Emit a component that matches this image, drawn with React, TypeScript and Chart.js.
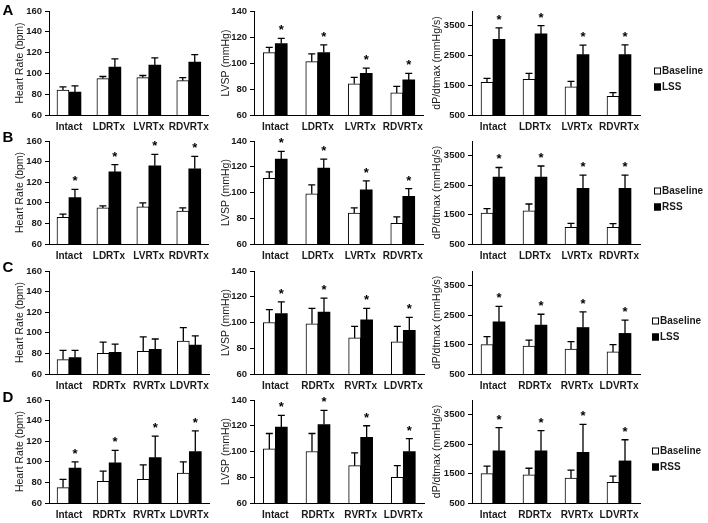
import React, { useEffect, useRef } from 'react';
import { Chart, registerables } from 'chart.js';

Chart.register(...registerables);

const FONT = '"Liberation Sans", Arial, Helvetica, sans-serif';
Chart.defaults.font.family = FONT;

// ---------- categories ----------
const CATEGORIES_LEFT = ['Intact', 'LDRTx', 'LVRTx', 'RDVRTx'];
const CATEGORIES_RIGHT = ['Intact', 'RDRTx', 'RVRTx', 'LDVRTx'];

// ---------- tick labels ----------
const HR_TICKS = [60, 80, 100, 120, 140, 160];
const LVSP_TICKS = [60, 80, 100, 120, 140];
const DP_TICKS = [500, 1500, 2500, 3500];

// ---------- Row A (LSS) ----------
const A_HR_BASE = [84, 95, 96, 93];
const A_HR_BASE_ERR = [3, 2, 2, 3];
const A_HR_STRESS = [82, 106, 108, 111];
const A_HR_STRESS_ERR = [6, 8, 7, 7];
const A_HR_SIG = [0, 0, 0, 0];

const A_LVSP_BASE = [108, 101, 84, 77];
const A_LVSP_BASE_ERR = [4, 6, 5, 5];
const A_LVSP_STRESS = [115, 108, 92, 87];
const A_LVSP_STRESS_ERR = [4, 6, 4, 5];
const A_LVSP_SIG = [1, 1, 1, 1];

const A_DP_BASE = [1600, 1700, 1450, 1130];
const A_DP_BASE_ERR = [130, 200, 180, 120];
const A_DP_STRESS = [3050, 3230, 2530, 2530];
const A_DP_STRESS_ERR = [380, 280, 320, 330];
const A_DP_SIG = [1, 1, 1, 1];

// ---------- Row B (RSS) ----------
const B_HR_BASE = [86, 95, 96, 92];
const B_HR_BASE_ERR = [3, 2, 4, 3];
const B_HR_STRESS = [105, 130, 136, 133];
const B_HR_STRESS_ERR = [8, 7, 11, 12];
const B_HR_SIG = [1, 1, 1, 1];

const B_LVSP_BASE = [111, 99, 84, 76];
const B_LVSP_BASE_ERR = [5, 7, 4, 5];
const B_LVSP_STRESS = [126, 119, 102, 97];
const B_LVSP_STRESS_ERR = [6, 7, 7, 6];
const B_LVSP_SIG = [1, 1, 1, 1];

const B_DP_BASE = [1550, 1630, 1070, 1070];
const B_DP_BASE_ERR = [150, 230, 130, 120];
const B_DP_STRESS = [2770, 2770, 2390, 2390];
const B_DP_STRESS_ERR = [330, 380, 450, 450];
const B_DP_SIG = [1, 1, 1, 1];

// ---------- Row C (LSS) ----------
const C_HR_BASE = [74, 80, 82, 92];
const C_HR_BASE_ERR = [9, 11, 14, 13];
const C_HR_STRESS = [76, 81, 84, 88];
const C_HR_STRESS_ERR = [7, 8, 10, 9];
const C_HR_SIG = [0, 0, 0, 0];

const C_LVSP_BASE = [100, 99, 88, 85];
const C_LVSP_BASE_ERR = [10, 12, 9, 12];
const C_LVSP_STRESS = [107, 108, 102, 94];
const C_LVSP_STRESS_ERR = [9, 11, 9, 10];
const C_LVSP_SIG = [1, 1, 1, 1];

const C_DP_BASE = [1500, 1450, 1350, 1250];
const C_DP_BASE_ERR = [270, 200, 250, 250];
const C_DP_STRESS = [2270, 2160, 2080, 1880];
const C_DP_STRESS_ERR = [530, 370, 530, 450];
const C_DP_SIG = [1, 1, 1, 1];

// ---------- Row D (RSS) ----------
const D_HR_BASE = [75, 81, 83, 89];
const D_HR_BASE_ERR = [8, 10, 14, 11];
const D_HR_STRESS = [94, 99, 104, 110];
const D_HR_STRESS_ERR = [6, 12, 21, 20];
const D_HR_SIG = [1, 1, 1, 1];

const D_LVSP_BASE = [102, 100, 89, 80];
const D_LVSP_BASE_ERR = [12, 14, 10, 9];
const D_LVSP_STRESS = [119, 121, 111, 100];
const D_LVSP_STRESS_ERR = [9, 11, 9, 10];
const D_LVSP_SIG = [1, 1, 1, 1];

const D_DP_BASE = [1500, 1460, 1350, 1200];
const D_DP_BASE_ERR = [250, 220, 270, 210];
const D_DP_STRESS = [2270, 2270, 2220, 1930];
const D_DP_STRESS_ERR = [790, 690, 950, 720];
const D_DP_SIG = [1, 1, 1, 1];

const ROW_LETTERS = ['A', 'B', 'C', 'D'];
const STRESS_LABELS = ['LSS', 'RSS', 'LSS', 'RSS'];
const BASELINE_LABEL = 'Baseline';

// ---------- layout (positions, not data) ----------
const ROW_LAYOUT = [
  { top: 0, h: 136, bottom: 115, legendX: 242, legendY: 71, letterY: 11 },
  { top: 130, h: 136, bottom: 114, legendX: 242, legendY: 61, letterY: 8 },
  { top: 260, h: 136, bottom: 114, legendX: 240, legendY: 61, letterY: 8 },
  { top: 389, h: 134, bottom: 114, legendX: 240, legendY: 62, letterY: 9 },
];

const COL_LAYOUT = {
  hr: { left: 0, w: 215, yWidth: 49, titlePad: 13.7, padRight: 2 },
  lvsp: { left: 212, w: 217, yWidth: 42, titlePad: 7.7, padRight: 2 },
  dp: { left: 412, w: 296, yWidth: 60, titlePad: 18.7, padRight: 68 },
};

const TEXT = '#1a1a1a';

type Spec = {
  row: number;
  col: 'hr' | 'lvsp' | 'dp';
  title: string;
  yMin: number;
  yMax: number;
  yTicks: number[];
  categories: string[];
  base: number[];
  baseErr: number[];
  stress: number[];
  stressErr: number[];
  sig: number[];
};

const ROW_DATA = [
  {
    cats: CATEGORIES_LEFT,
    hr: [A_HR_BASE, A_HR_BASE_ERR, A_HR_STRESS, A_HR_STRESS_ERR, A_HR_SIG],
    lvsp: [A_LVSP_BASE, A_LVSP_BASE_ERR, A_LVSP_STRESS, A_LVSP_STRESS_ERR, A_LVSP_SIG],
    dp: [A_DP_BASE, A_DP_BASE_ERR, A_DP_STRESS, A_DP_STRESS_ERR, A_DP_SIG],
  },
  {
    cats: CATEGORIES_LEFT,
    hr: [B_HR_BASE, B_HR_BASE_ERR, B_HR_STRESS, B_HR_STRESS_ERR, B_HR_SIG],
    lvsp: [B_LVSP_BASE, B_LVSP_BASE_ERR, B_LVSP_STRESS, B_LVSP_STRESS_ERR, B_LVSP_SIG],
    dp: [B_DP_BASE, B_DP_BASE_ERR, B_DP_STRESS, B_DP_STRESS_ERR, B_DP_SIG],
  },
  {
    cats: CATEGORIES_RIGHT,
    hr: [C_HR_BASE, C_HR_BASE_ERR, C_HR_STRESS, C_HR_STRESS_ERR, C_HR_SIG],
    lvsp: [C_LVSP_BASE, C_LVSP_BASE_ERR, C_LVSP_STRESS, C_LVSP_STRESS_ERR, C_LVSP_SIG],
    dp: [C_DP_BASE, C_DP_BASE_ERR, C_DP_STRESS, C_DP_STRESS_ERR, C_DP_SIG],
  },
  {
    cats: CATEGORIES_RIGHT,
    hr: [D_HR_BASE, D_HR_BASE_ERR, D_HR_STRESS, D_HR_STRESS_ERR, D_HR_SIG],
    lvsp: [D_LVSP_BASE, D_LVSP_BASE_ERR, D_LVSP_STRESS, D_LVSP_STRESS_ERR, D_LVSP_SIG],
    dp: [D_DP_BASE, D_DP_BASE_ERR, D_DP_STRESS, D_DP_STRESS_ERR, D_DP_SIG],
  },
];

const COL_META = {
  hr: { title: 'Heart Rate (bpm)', yMin: 60, yMax: 160, yTicks: HR_TICKS },
  lvsp: { title: 'LVSP (mmHg)', yMin: 60, yMax: 140, yTicks: LVSP_TICKS },
  dp: { title: 'dP/dtmax (mmHg/s)', yMin: 500, yMax: 4000, yTicks: DP_TICKS },
};

const SPECS: Spec[] = [];
ROW_DATA.forEach((r, row) => {
  (['hr', 'lvsp', 'dp'] as const).forEach((col) => {
    const d = r[col];
    SPECS.push({
      row,
      col,
      title: COL_META[col].title,
      yMin: COL_META[col].yMin,
      yMax: COL_META[col].yMax,
      yTicks: COL_META[col].yTicks,
      categories: r.cats,
      base: d[0],
      baseErr: d[1],
      stress: d[2],
      stressErr: d[3],
      sig: d[4],
    });
  });
});

// ---------- plugins ----------
const errorBarPlugin = {
  id: 'errorBars',
  afterDatasetsDraw(chart: any) {
    const { ctx } = chart;
    const yScale = chart.scales.y;
    chart.data.datasets.forEach((ds: any, di: number) => {
      const meta = chart.getDatasetMeta(di);
      meta.data.forEach((bar: any, i: number) => {
        const v = ds.data[i];
        const e = ds.errors[i];
        const yBar = yScale.getPixelForValue(v);
        const yTop = yScale.getPixelForValue(v + e);
        ctx.save();
        ctx.strokeStyle = '#000';
        ctx.lineWidth = 1.3;
        ctx.beginPath();
        ctx.moveTo(bar.x, yBar);
        ctx.lineTo(bar.x, yTop);
        ctx.moveTo(bar.x - 3.5, yTop);
        ctx.lineTo(bar.x + 3.5, yTop);
        ctx.stroke();
        if (ds.sig && ds.sig[i]) {
          ctx.fillStyle = '#000';
          ctx.font = `bold 13px ${FONT}`;
          ctx.textAlign = 'center';
          ctx.textBaseline = 'alphabetic';
          ctx.fillText('*', bar.x, yTop - 4);
        }
        ctx.restore();
      });
    });
  },
};

const sideLegendPlugin = {
  id: 'sideLegend',
  afterDraw(chart: any, _args: any, opts: any) {
    if (!opts || !opts.show) return;
    const { ctx } = chart;
    chart.data.datasets.forEach((ds: any, i: number) => {
      const cy = opts.y + i * 16;
      ctx.save();
      ctx.fillStyle = ds.backgroundColor;
      ctx.fillRect(opts.x, cy - 3.5, 7, 7);
      ctx.strokeStyle = '#000';
      ctx.lineWidth = 1;
      ctx.strokeRect(opts.x + 0.5, cy - 3, 6, 6);
      ctx.fillStyle = TEXT;
      ctx.font = `bold 10px ${FONT}`;
      ctx.textAlign = 'left';
      ctx.textBaseline = 'middle';
      ctx.fillText(ds.label, opts.x + 8, cy);
      ctx.restore();
    });
  },
};

const panelLetterPlugin = {
  id: 'panelLetter',
  afterDraw(chart: any, _args: any, opts: any) {
    if (!opts || !opts.text) return;
    const { ctx } = chart;
    ctx.save();
    ctx.fillStyle = '#000';
    ctx.font = `bold 15px ${FONT}`;
    ctx.textAlign = 'center';
    ctx.textBaseline = 'middle';
    ctx.fillText(opts.text, opts.x, opts.y);
    ctx.restore();
  },
};

function buildConfig(spec: Spec): any {
  const col = COL_LAYOUT[spec.col];
  const row = ROW_LAYOUT[spec.row];
  const xAxisH = row.h - row.bottom;
  return {
    type: 'bar',
    data: {
      labels: spec.categories,
      datasets: [
        {
          label: BASELINE_LABEL,
          data: spec.base,
          backgroundColor: '#ffffff',
          borderColor: '#000000',
          borderWidth: 1,
          barThickness: 12,
          errors: spec.baseErr,
          sig: null,
        },
        {
          label: STRESS_LABELS[spec.row],
          data: spec.stress,
          backgroundColor: '#000000',
          borderColor: '#000000',
          borderWidth: 0,
          barThickness: 12,
          errors: spec.stressErr,
          sig: spec.sig,
        },
      ],
    },
    options: {
      animation: false,
      responsive: false,
      maintainAspectRatio: false,
      events: [],
      layout: { padding: { top: 11, right: col.padRight, bottom: 0, left: 0 } },
      scales: {
        x: {
          type: 'category',
          offset: true,
          grid: { display: false, drawTicks: false },
          border: { display: true, color: '#000', width: 1 },
          ticks: {
            autoSkip: false,
            maxRotation: 0,
            minRotation: 0,
            padding: 6,
            color: TEXT,
            font: { size: 10, weight: 'bold' },
          },
          afterFit: (s: any) => {
            s.height = xAxisH;
          },
        },
        y: {
          min: spec.yMin,
          max: spec.yMax,
          grid: { display: true, drawOnChartArea: false, drawTicks: true, tickLength: 4, color: '#000' },
          border: { display: true, color: '#000', width: 1 },
          ticks: {
            padding: 3,
            color: TEXT,
            font: { size: 9.5, weight: 'bold' },
            callback: (v: number) => String(v),
          },
          afterBuildTicks: (s: any) => {
            s.ticks = spec.yTicks.map((value) => ({ value }));
          },
          afterFit: (s: any) => {
            s.width = col.yWidth;
          },
          title: {
            display: true,
            text: spec.title,
            color: TEXT,
            font: { size: 10.5, weight: 'normal' },
            padding: { top: col.titlePad, bottom: 0 },
          },
        },
      },
      plugins: {
        legend: { display: false },
        tooltip: { enabled: false },
        sideLegend: spec.col === 'dp' ? { show: true, x: row.legendX, y: row.legendY } : { show: false },
        panelLetter: spec.col === 'hr' ? { text: ROW_LETTERS[spec.row], x: 8, y: row.letterY } : { text: '' },
      },
    },
    plugins: [errorBarPlugin, sideLegendPlugin, panelLetterPlugin],
  };
}

function Panel({ spec }: { spec: Spec }) {
  const ref = useRef<HTMLCanvasElement | null>(null);
  const col = COL_LAYOUT[spec.col];
  const row = ROW_LAYOUT[spec.row];
  useEffect(() => {
    if (!ref.current) return;
    const chart = new Chart(ref.current, buildConfig(spec));
    return () => chart.destroy();
  }, [spec]);
  return (
    <canvas
      ref={ref}
      width={col.w}
      height={row.h}
      style={{ position: 'absolute', left: col.left, top: row.top, width: col.w, height: row.h }}
    />
  );
}

export default function App() {
  return (
    <div
      style={{
        position: 'fixed',
        left: 0,
        top: 0,
        width: 708,
        height: 523,
        overflow: 'hidden',
        background: '#ffffff',
      }}
    >
      {SPECS.map((s, i) => (
        <Panel key={i} spec={s} />
      ))}
    </div>
  );
}
